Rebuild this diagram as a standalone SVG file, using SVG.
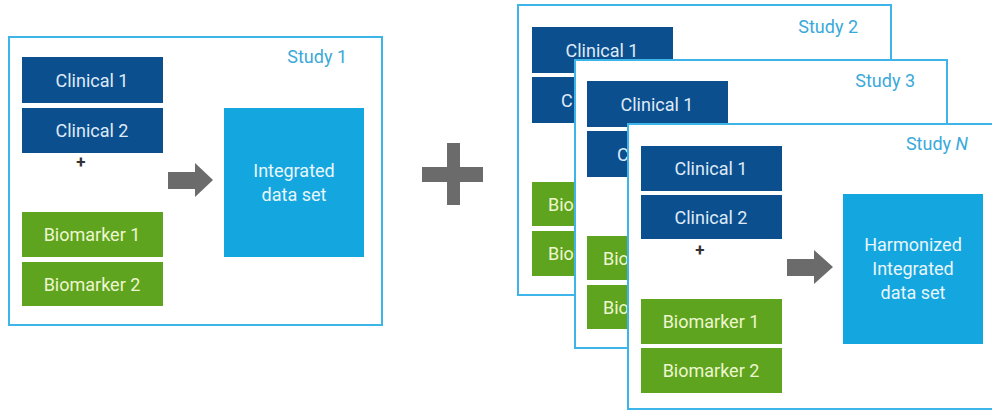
<svg xmlns="http://www.w3.org/2000/svg" width="992" height="411" viewBox="0 0 992 411">
<style>
.frame{fill:#fff;stroke:#3db5e8;stroke-width:2}
.clin{fill:#0b4f8e}
.bio{fill:#5ea41f}
.res{fill:#14a6de}
text{font-family:Roboto,"Liberation Sans",Arial,sans-serif;font-size:18px}
.ct{fill:#dfeaf8;text-anchor:middle}
.bt{fill:#eef6d0;text-anchor:middle}
.rt{fill:#e8f6fc;text-anchor:middle}
.st{fill:#3aa9d9;text-anchor:end}
.pl{fill:#333;font-size:17px;font-weight:bold;text-anchor:middle}
.arr{fill:#6b6b6b}
</style>
<g id="study1">
<rect class="frame" x="9" y="37" width="373" height="288"/>
<text class="st" x="347" y="63">Study 1</text>
<g id="s1-clin1"><rect class="clin" x="22" y="57" width="141" height="46"/><text class="ct" x="92" y="87">Clinical 1</text></g>
<g id="s1-clin2"><rect class="clin" x="22" y="108" width="141" height="45"/><text class="ct" x="92" y="137">Clinical 2</text></g>
<text class="pl" x="81" y="168">+</text>
<g id="s1-bio1"><rect class="bio" x="22" y="212" width="141" height="45"/><text class="bt" x="92" y="241">Biomarker 1</text></g>
<g id="s1-bio2"><rect class="bio" x="22" y="262" width="141" height="44"/><text class="bt" x="92" y="291">Biomarker 2</text></g>
<g id="s1-int"><rect class="res" x="224" y="108" width="140" height="149"/><text class="rt" x="294" y="177">Integrated</text><text class="rt" x="294" y="201">data set</text></g>
</g>
<g id="bigplus">
<rect class="arr" x="447" y="143" width="13" height="62"/>
<rect class="arr" x="422" y="167" width="61" height="15"/>
</g>
<g id="study2">
<rect class="frame" x="518" y="5" width="373" height="290"/>
<text class="st" x="858" y="33">Study 2</text>
<rect class="clin" x="532" y="27" width="141" height="46"/><text class="ct" x="602" y="57">Clinical 1</text>
<rect class="clin" x="532" y="77" width="141" height="46"/><text x="561" y="107" fill="#dfeaf8">C</text>
<rect class="bio" x="532" y="182" width="141" height="44"/><text x="548" y="211" fill="#eef6d0">Bio</text>
<rect class="bio" x="532" y="231" width="141" height="45"/><text x="548" y="260" fill="#eef6d0">Bio</text>
</g>
<g id="study3">
<rect class="frame" x="575" y="60" width="372" height="288"/>
<text class="st" x="915" y="87">Study 3</text>
<rect class="clin" x="587" y="81" width="141" height="46"/><text class="ct" x="657" y="111">Clinical 1</text>
<rect class="clin" x="587" y="131" width="141" height="46"/><text x="617" y="161" fill="#dfeaf8">C</text>
<rect class="bio" x="587" y="236" width="141" height="44"/><text x="603" y="265" fill="#eef6d0">Bio</text>
<rect class="bio" x="587" y="285" width="141" height="44"/><text x="603" y="314" fill="#eef6d0">Bio</text>
</g>
<g id="studyN">
<rect class="frame" x="628" y="124" width="370" height="285"/>
<text class="st" x="968" y="150">Study <tspan font-style="italic">N</tspan></text>
<g id="sN-clin1"><rect class="clin" x="641" y="146" width="141" height="45"/><text class="ct" x="711" y="175">Clinical 1</text></g>
<g id="sN-clin2"><rect class="clin" x="641" y="195" width="141" height="44"/><text class="ct" x="711" y="224">Clinical 2</text></g>
<text class="pl" x="700" y="256">+</text>
<g id="sN-bio1"><rect class="bio" x="641" y="299" width="141" height="45"/><text class="bt" x="711" y="328">Biomarker 1</text></g>
<g id="sN-bio2"><rect class="bio" x="641" y="348" width="141" height="45"/><text class="bt" x="711" y="377">Biomarker 2</text></g>
<g id="sN-int"><rect class="res" x="843" y="194" width="140" height="150"/><text class="rt" x="913" y="251">Harmonized</text><text class="rt" x="913" y="275">Integrated</text><text class="rt" x="913" y="299">data set</text></g>
</g>
<g id="connectors">
<polygon class="arr" points="168,172 195,172 195,163 213,180 195,197 195,189 168,189"/>
<polygon class="arr" points="787,259 814,259 814,250 833,267 814,284 814,276 787,276"/>
</g>
</svg>
